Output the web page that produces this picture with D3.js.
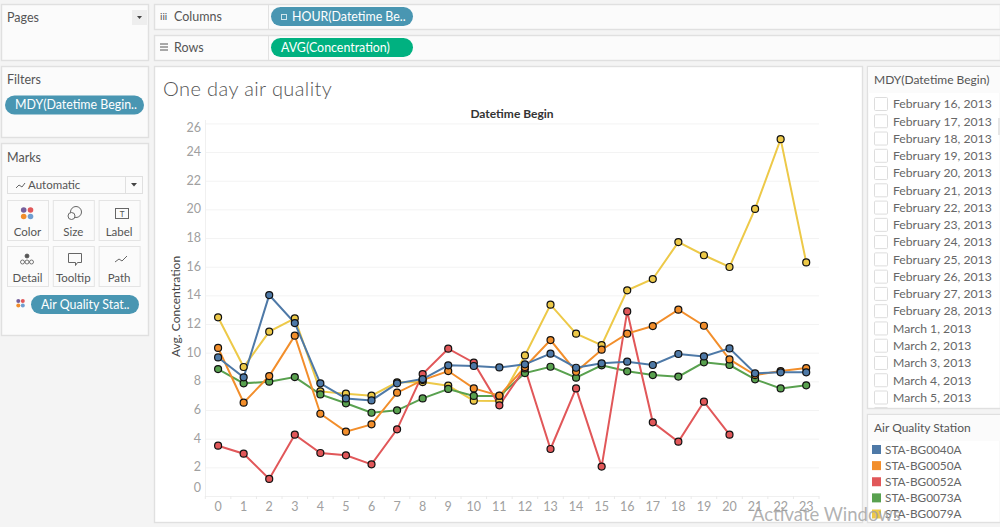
<!DOCTYPE html>
<html>
<head>
<meta charset="utf-8">
<script src="https://cdn.jsdelivr.net/npm/d3@7"></script>
<style>
  html, body { margin: 0; padding: 0; background: #f4f4f4; overflow: hidden; }
  svg { display: block; }
  text { font-family: Lato, "Open Sans", sans-serif; }
</style>
</head>
<body>
<svg id="view" width="1000" height="527"></svg>
<script>
const hours = d3.range(0, 24);
const yTicks = [26, 24, 22, 20, 18, 16, 14, 12, 10, 8, 6, 4, 2, 0];

const stations = ["STA-BG0040A", "STA-BG0050A", "STA-BG0052A", "STA-BG0073A", "STA-BG0079A"];
const stationColors = ["#4e79a7", "#f28e2b", "#e15759", "#59a14f", "#edc948"];

const bg0040 = [9.67, 8.28, 14.02, 12.07, 7.86, 6.81, 6.67, 7.86, 8.16, 9.12, 9.07, 8.97, 9.19, 9.93, 8.95, 9.26, 9.37, 9.14, 9.91, 9.74, 10.3, 8.56, 8.63, 8.63];
const bg0050 = [10.33, 6.51, 8.37, 11.19, 5.74, 4.49, 5.0, 7.21, 8.09, 8.72, 7.51, 7.0, 9.0, 10.88, 8.67, 10.21, 11.33, 11.86, 13.0, 11.88, 9.53, 8.44, 8.72, 8.93];
const bg0052 = [3.51, 2.95, 1.19, 4.28, 3.0, 2.84, 2.21, 4.65, 8.51, 10.28, 9.3, 6.33, 8.9, 3.28, 7.51, 2.05, 12.88, 5.14, 3.79, 6.58, 4.28];
const bg0073 = [8.86, 7.86, 7.98, 8.3, 7.09, 6.47, 5.81, 5.98, 6.81, 7.47, 6.98, 6.98, 8.58, 9.02, 8.26, 9.12, 8.7, 8.44, 8.33, 9.33, 9.14, 8.14, 7.51, 7.72];
const bg0079 = [12.47, 9.0, 11.47, 12.4, 7.3, 7.14, 7.0, 7.93, 7.95, 7.7, 6.65, 6.63, 9.81, 13.35, 11.33, 10.53, 14.35, 15.14, 17.72, 16.8, 15.98, 20.03, 24.9, 16.3];
const stationValues = [bg0040, bg0050, bg0052, bg0073, bg0079];

const dateLabels = ["February 16, 2013", "February 17, 2013", "February 18, 2013", "February 19, 2013", "February 20, 2013", "February 21, 2013", "February 22, 2013", "February 23, 2013", "February 24, 2013", "February 25, 2013", "February 26, 2013", "February 27, 2013", "February 28, 2013", "March 1, 2013", "March 2, 2013", "March 3, 2013", "March 4, 2013", "March 5, 2013"];
const markCards = ["Color", "Size", "Label", "Detail", "Tooltip", "Path"];

const svg = d3.select("#view");
const textColor = "#555";
const panelFill = "#fbfbfb";

function panel(x, y, w, h, fill) {
  svg.append("rect").attr("x", x + 0.5).attr("y", y + 0.5).attr("width", w).attr("height", h)
    .attr("fill", fill || panelFill).attr("stroke", "#e0e0e0").attr("stroke-width", 1.4);
}

function label(x, y, str, size, color, anchor) {
  return svg.append("text").attr("x", x).attr("y", y).attr("dy", "0.35em")
    .attr("font-size", size).attr("fill", color || textColor)
    .attr("text-anchor", anchor || "start").text(str);
}

function pill(x, y, w, str, fill) {
  svg.append("rect").attr("x", x).attr("y", y).attr("width", w).attr("height", 19).attr("rx", 9.5).attr("fill", fill);
  label(x + 10, y + 9.5, str, 12.4, "#fff");
}

// --- side and shelf chrome
panel(1, 4, 147, 56);
panel(1, 66, 147, 71);
panel(1, 143, 147, 192);
panel(154, 4, 846, 25);
panel(154, 35, 846, 25);
panel(154, 66, 708, 456, "#fff");
panel(867, 66, 133, 342, "#fff");
panel(867, 414, 133, 108, "#fff");

label(7, 18, "Pages", 12.5);
svg.append("rect").attr("x", 132).attr("y", 10).attr("width", 15).attr("height", 15).attr("fill", "#eee");
svg.append("path").attr("d", "M137 16h5l-2.5 3z").attr("fill", "#444");
label(7, 79.5, "Filters", 12.5);
pill(5, 95.5, 139, "MDY(Datetime Begin..", "#4996b2");
label(7, 157.5, "Marks", 12.5);

svg.append("line").attr("x1", 268.5).attr("x2", 268.5).attr("y1", 5).attr("y2", 29).attr("stroke", "#e2e2e2");
svg.append("line").attr("x1", 268.5).attr("x2", 268.5).attr("y1", 36).attr("y2", 60).attr("stroke", "#e2e2e2");
label(174, 17, "Columns", 12.5);
label(174, 47.5, "Rows", 12.5);
label(160, 16, "iii", 10, "#555");
svg.append("path").attr("d", "M160 44h8M160 47h8M160 50h8").attr("stroke", "#555").attr("fill", "none");
pill(271, 7, 142, "", "#4996b2");
svg.append("rect").attr("x", 281.5).attr("y", 14.5).attr("width", 5).attr("height", 5).attr("fill", "none").attr("stroke", "#cfe4ec");
label(292, 16.5, "HOUR(Datetime Be..", 12.4, "#fff");
pill(271, 38, 142, "AVG(Concentration)", "#00b180");

// --- marks card
svg.append("rect").attr("x", 7.5).attr("y", 176.5).attr("width", 135).attr("height", 17).attr("fill", panelFill).attr("stroke", "#e0e0e0");
svg.append("line").attr("x1", 125.5).attr("x2", 125.5).attr("y1", 177).attr("y2", 193).attr("stroke", "#e0e0e0");
svg.append("path").attr("d", "M131 183h6l-3 3.5z").attr("fill", "#444");
svg.append("path").attr("d", "M16 188l3-3 3 2 3-4").attr("fill", "none").attr("stroke", "#666");
label(28, 185, "Automatic", 11.5);

const cardX = d3.scaleBand().domain(d3.range(3)).range([7, 143]).paddingInner(0.03);
markCards.forEach((name, i) => {
  const cx = cardX(i % 3), cy = i < 3 ? 200 : 246;
  svg.append("rect").attr("x", cx + 0.5).attr("y", cy + 0.5).attr("width", 41).attr("height", 40).attr("fill", panelFill).attr("stroke", "#e4e4e4");
  label(cx + 20.5, cy + 32, name, 11.5, textColor, "middle");
});

// icons on top of the cards
const cardIcons = svg.append("g");
const colorDots = ["#76609c", "#e15759", "#f28e2b", "#6f9ed1"];
colorDots.forEach((c, i) => {
  cardIcons.append("circle").attr("cx", 23.7 + (i % 2) * 6.8).attr("cy", 210 + (i > 1 ? 6.5 : 0)).attr("r", 2.8).attr("fill", c);
  cardIcons.append("circle").attr("cx", 18.3 + (i % 2) * 4.5).attr("cy", 301 + (i > 1 ? 4.5 : 0)).attr("r", 2).attr("fill", c);
});
cardIcons.append("circle").attr("cx", 76).attr("cy", 212).attr("r", 5.5).attr("fill", "none").attr("stroke", "#666");
cardIcons.append("circle").attr("cx", 71.5).attr("cy", 216).attr("r", 3.5).attr("fill", panelFill).attr("stroke", "#666");
cardIcons.append("rect").attr("x", 115.5).attr("y", 208.5).attr("width", 13).attr("height", 10).attr("fill", "none").attr("stroke", "#666");
cardIcons.append("text").attr("x", 122).attr("y", 217).attr("font-size", 8).attr("text-anchor", "middle").attr("fill", "#555").text("T");
[[27, 256, "#555"], [22.5, 262, "none"], [27, 262, "none"], [31.5, 262, "none"]].forEach(d => {
  cardIcons.append("circle").attr("cx", d[0]).attr("cy", d[1]).attr("r", 2).attr("fill", d[2]).attr("stroke", "#555").attr("stroke-width", 0.8);
});
cardIcons.append("path").attr("d", "M68.5 253.5h13v9h-4l-2 3v-3h-7z").attr("fill", "none").attr("stroke", "#666");
cardIcons.append("path").attr("d", "M115 262l4-3 3 2 5-5").attr("fill", "none").attr("stroke", "#666");
pill(31, 295, 108, "Air Quality Stat..", "#4996b2");

// --- chart
const x = d3.scaleBand().domain(hours).range([205.3, 819]);
const y = d3.scaleLinear().domain([0, 26]).range([496, 123.4]);
const px = h => x(h) + x.bandwidth() / 2;

label(163, 88.5, "One day air quality", 20, "#555").attr("font-weight", 300).attr("letter-spacing", 0.4);
label(512, 114, "Datetime Begin", 12, "#333", "middle").attr("font-weight", 700);

const grid = svg.append("g");
grid.selectAll("line").data(yTicks.filter(t => t > 0)).join("line")
  .attr("x1", 205.3).attr("x2", 819).attr("y1", d => y(d) + 0.5).attr("y2", d => y(d) + 0.5)
  .attr("stroke", "#f3f3f3");
grid.append("line").attr("x1", 205.5).attr("x2", 205.5).attr("y1", 120).attr("y2", 497).attr("stroke", "#f0f0f0");
grid.append("line").attr("x1", 205.3).attr("x2", 819).attr("y1", 496.5).attr("y2", 496.5).attr("stroke", "#f0f0f0");

const xTickEdges = hours.concat([24]);
grid.selectAll("line.edge").data(xTickEdges).join("line").attr("class", "edge")
  .attr("x1", h => 205.3 + h * x.step()).attr("x2", h => 205.3 + h * x.step())
  .attr("y1", 496).attr("y2", 499).attr("stroke", "#eaeaea");

// 26 and 0 labels get pushed inside the pane in the original
const yAxis = svg.append("g").attr("transform", "translate(205,0)")
  .call(d3.axisLeft(y).tickValues(yTicks).tickSize(0).tickPadding(4));
yAxis.select(".domain").remove();
yAxis.selectAll(".tick").attr("transform", d => "translate(0," + Math.min(488, Math.max(128, y(d))) + ")");
yAxis.selectAll("text").attr("font-size", 12.5).attr("fill", "#a0a0a0").attr("font-family", "Lato, sans-serif");

const xAxis = svg.append("g").attr("transform", "translate(0,498.5)")
  .call(d3.axisBottom(x).tickSize(0).tickPadding(4));
xAxis.select(".domain").remove();
xAxis.selectAll("text").attr("font-size", 12.5).attr("fill", "#a0a0a0").attr("font-family", "Lato, sans-serif");

svg.append("text").attr("transform", "translate(176,306.5) rotate(-90)").attr("dy", "0.35em")
  .attr("text-anchor", "middle").attr("font-size", 12).attr("fill", "#444").text("Avg. Concentration");

const line = d3.line().x((d, i) => px(i)).y(d => y(d));
// later stations sit underneath in the original
const order = d3.range(stations.length).reverse();
order.forEach(s => {
  svg.append("path").datum(stationValues[s]).attr("d", line)
    .attr("fill", "none").attr("stroke", stationColors[s]).attr("stroke-width", 2);
});
order.forEach(s => {
  svg.append("g").selectAll("circle").data(stationValues[s]).join("circle")
    .attr("cx", (d, i) => px(i)).attr("cy", d => y(d)).attr("r", 3.5)
    .attr("fill", stationColors[s]).attr("stroke", "#111").attr("stroke-width", 1.2);
});

// --- right side legends
svg.append("rect").attr("x", 868).attr("y", 67).attr("width", 132).attr("height", 26).attr("fill", panelFill);
label(874, 79.5, "MDY(Datetime Begin)", 12);
const rowY = d3.scaleLinear().domain([0, 17]).range([104, 397.5]);
const rows = svg.append("g").selectAll("g").data(dateLabels).join("g")
  .attr("transform", (d, i) => "translate(0," + rowY(i) + ")");
rows.append("rect").attr("x", 874.5).attr("y", -6.5).attr("width", 13).attr("height", 13).attr("rx", 1).attr("fill", "#fff").attr("stroke", "#ddd");
rows.append("text").attr("x", 893).attr("dy", "0.35em").attr("font-size", 12.2).attr("fill", "#666").text(d => d);
svg.append("rect").attr("x", 874.5).attr("y", 407).attr("width", 13).attr("height", 1).attr("fill", "#e2e2e2");
svg.append("rect").attr("x", 998).attr("y", 118).attr("width", 2).attr("height", 17).attr("fill", "#e6e6e6");

svg.append("rect").attr("x", 868).attr("y", 415).attr("width", 132).attr("height", 26).attr("fill", panelFill);
label(874, 428, "Air Quality Station", 12);
const legendY = d3.scaleLinear().domain([0, 4]).range([449.5, 514]);
const legendRows = svg.append("g").selectAll("g").data(stations).join("g")
  .attr("transform", (d, i) => "translate(0," + legendY(i) + ")");
legendRows.append("rect").attr("x", 872).attr("y", -4.5).attr("width", 9).attr("height", 9).attr("fill", (d, i) => stationColors[i]);
legendRows.append("text").attr("x", 885).attr("dy", "0.35em").attr("font-size", 11.8).attr("fill", "#666").text(d => d);

// windows watermark on the screenshot
svg.append("text").attr("x", 752).attr("y", 521).attr("font-size", 18.5).attr("fill", "#a4a4a4").attr("fill-opacity", 0.85)
  .attr("font-family", "Open Sans, sans-serif").text("Activate Windows");
</script>
</body>
</html>
